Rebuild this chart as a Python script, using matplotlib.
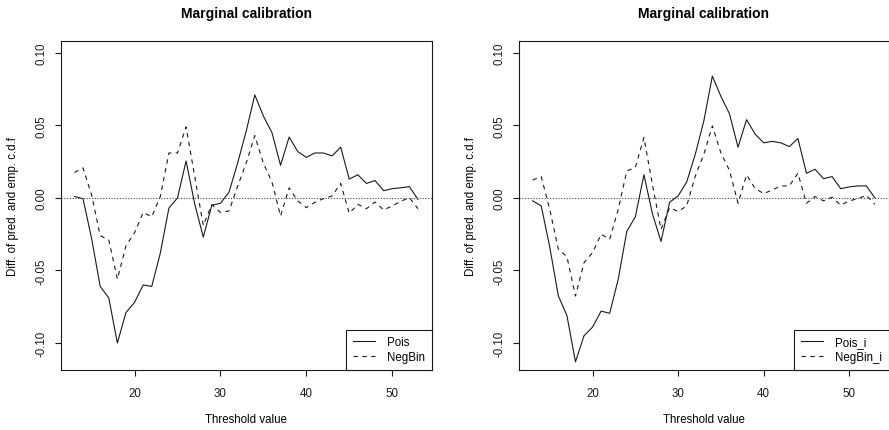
import numpy as np
import matplotlib
matplotlib.use("Agg")
import matplotlib.pyplot as plt

plt.rcParams['font.family'] = ['Liberation Sans', 'DejaVu Sans']

thresholds = list(range(13, 54))

pois = [0.001, -0.0005, -0.028, -0.061, -0.069, -0.100, -0.079, -0.072, -0.060, -0.061,
        -0.038, -0.007, 0.000, 0.0255, -0.004, -0.027, -0.005, -0.0037, 0.004, 0.024,
        0.046, 0.071, 0.0565, 0.045, 0.0225, 0.042, 0.032, 0.028, 0.031, 0.031,
        0.029, 0.035, 0.013, 0.016, 0.010, 0.012, 0.005, 0.0064, 0.007, 0.0078, -0.001]

negbin = [0.0175, 0.0207, 0.002, -0.026, -0.029, -0.056, -0.033, -0.024, -0.010, -0.013,
          0.001, 0.031, 0.031, 0.049, 0.015, -0.019, -0.0045, -0.010, -0.009, 0.008,
          0.024, 0.043, 0.024, 0.011, -0.0125, 0.007, -0.002, -0.0067, -0.003, -0.0005,
          0.0014, 0.010, -0.0106, -0.0044, -0.0074, -0.0028, -0.0083, -0.0055, -0.0023, 0.0002, -0.0074]

pois_i = [-0.002, -0.0055, -0.034, -0.0676, -0.081, -0.113, -0.095, -0.089, -0.078, -0.0795,
          -0.056, -0.023, -0.013, 0.016, -0.011, -0.030, -0.003, 0.0014, 0.011, 0.030,
          0.053, 0.084, 0.070, 0.058, 0.035, 0.054, 0.044, 0.038, 0.039, 0.038,
          0.0354, 0.041, 0.017, 0.0198, 0.0133, 0.0147, 0.0064, 0.0076, 0.0083, 0.0083, 0.000]

negbin_i = [0.0124, 0.0147, -0.008, -0.0354, -0.0405, -0.0676, -0.0446, -0.0377, -0.025, -0.0285,
            -0.0078, 0.0186, 0.021, 0.0416, 0.009, -0.0216, -0.0067, -0.0094, -0.0055, 0.015,
            0.030, 0.0497, 0.031, 0.019, -0.0037, 0.0159, 0.0065, 0.003, 0.0055, 0.0083,
            0.0083, 0.017, -0.0037, 0.001, -0.002, 0.0005, -0.005, -0.002, -0.0005, 0.0018, -0.0044]

yticks = [-0.10, -0.05, 0.00, 0.05, 0.10]
ytick_labels = ["-0.10", "-0.05", "0.00", "0.05", "0.10"]
xticks = [20, 30, 40, 50]
title = "Marginal calibration"
xlabel = "Threshold value"
ylabel = "Diff. of pred. and emp. c.d.f"

W, H = 889, 431
fig = plt.figure(figsize=(W / 100, H / 100), dpi=100)

def px_axes(left, top, right, bottom):
    return fig.add_axes([left / W, (H - bottom) / H, (right - left) / W, (bottom - top) / H])

panels = [
    (60.7, 431.7, pois, negbin, ["Pois", "NegBin"]),
    (519.0, 888.6, pois_i, negbin_i, ["Pois_i", "NegBin_i"]),
]

for left, right, s1, s2, labels in panels:
    ax = px_axes(left, 41.7, right, 370.7)
    ax.plot(thresholds, s1, color='#1a1a1a', lw=0.8, ls='-', label=labels[0])
    ax.plot(thresholds, s2, color='#1a1a1a', lw=0.8, ls=(0, (4, 4)), label=labels[1])
    ax.axhline(0, color='#444444', lw=0.8, ls=(0, (1, 1.5)))
    ax.set_xlim(11.4, 54.6)
    ax.set_ylim(-0.1184, 0.1084)
    ax.set_yticks(yticks)
    ax.set_yticklabels(ytick_labels, rotation=90, va='center')
    ax.set_xticks(xticks)
    ax.tick_params(axis='both', direction='out', length=4.3, width=0.8, labelsize=8.3, colors='#1a1a1a')
    ax.tick_params(axis='x', pad=8.5)
    ax.tick_params(axis='y', pad=5.5)
    for sp in ax.spines.values():
        sp.set_linewidth(0.8)
        sp.set_color('#1a1a1a')
    cx = (left + right) / 2
    fig.text(cx / W, 1 - 14 / H, title, ha='center', va='center', fontsize=10, fontweight='bold')
    fig.text(cx / W, 1 - 420 / H, xlabel, ha='center', va='center', fontsize=8.3)
    fig.text((left - 47.7) / W, 1 - 206 / H, ylabel, ha='center', va='center', fontsize=8.3, rotation=90)
    leg = ax.legend(loc='lower right', bbox_to_anchor=(1, 0), borderaxespad=0, fontsize=8.3,
                    frameon=True, fancybox=False, edgecolor='#1a1a1a', framealpha=1,
                    handlelength=1.9, handletextpad=1.0, borderpad=0.6, labelspacing=0.2)
    leg.get_frame().set_linewidth(0.8)

fig.savefig("out.png", dpi=100)
